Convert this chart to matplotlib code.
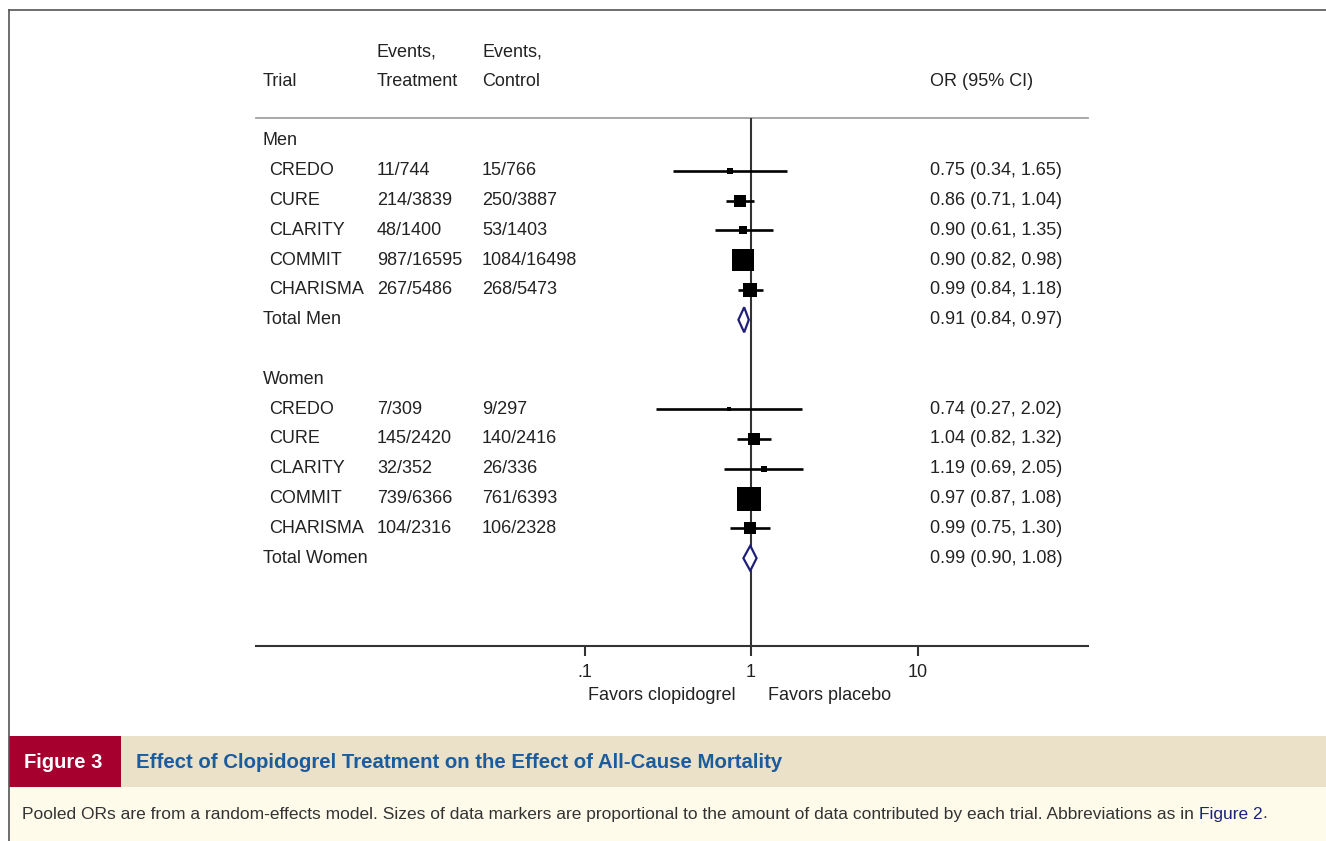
import numpy as np
import matplotlib
matplotlib.use("Agg")
import matplotlib.pyplot as plt
from matplotlib.patches import Polygon, Rectangle

plt.rcParams['font.family'] = ['Liberation Sans', 'DejaVu Sans']

# ---------------- data ----------------
groups = ["Men", "Women"]
trials = ["CREDO", "CURE", "CLARITY", "COMMIT", "CHARISMA"]
men_treat = ["11/744", "214/3839", "48/1400", "987/16595", "267/5486"]
men_ctrl = ["15/766", "250/3887", "53/1403", "1084/16498", "268/5473"]
men_or = [0.75, 0.86, 0.90, 0.90, 0.99]
men_lo = [0.34, 0.71, 0.61, 0.82, 0.84]
men_hi = [1.65, 1.04, 1.35, 0.98, 1.18]
men_weight = [3, 16, 6.5, 55, 20]
men_total = (0.91, 0.84, 0.97)

women_treat = ["7/309", "145/2420", "32/352", "739/6366", "104/2316"]
women_ctrl = ["9/297", "140/2416", "26/336", "761/6393", "106/2328"]
women_or = [0.74, 1.04, 1.19, 0.97, 0.99]
women_lo = [0.27, 0.82, 0.69, 0.87, 0.75]
women_hi = [2.02, 1.32, 2.05, 1.08, 1.30]
women_weight = [2.7, 16, 5, 65, 14]
women_total = (0.99, 0.90, 1.08)

xticks = [0.1, 1, 10]
xticklabels = [".1", "1", "10"]

W, H = 1326, 841
fig = plt.figure(figsize=(W / 100, H / 100), dpi=100)

# overlay axes in pixel coords
bg = fig.add_axes([0, 0, 1, 1])
bg.set_xlim(0, W)
bg.set_ylim(H, 0)
bg.axis("off")

txt_color = "#222222"
fs = 13

# frame lines
bg.plot([9, W], [10, 10], color="#555555", lw=1.2)
bg.plot([9, 9], [10, H], color="#555555", lw=1.2)

# caption bands
bg.add_patch(Rectangle((9, 736), W - 9, 51, facecolor="#EBE0C8", edgecolor="none"))
bg.add_patch(Rectangle((9, 787), W - 9, H - 787, facecolor="#FEFBEB", edgecolor="none"))
bg.add_patch(Rectangle((9, 736), 112, 51, facecolor="#A6002E", edgecolor="none"))
cap_font = ['Liberation Sans', 'DejaVu Sans']
bg.text(63, 762, "Figure 3", color="white", fontsize=14.5, fontweight="bold",
        family=cap_font, ha="center", va="center")
bg.text(136, 762, "Effect of Clopidogrel Treatment on the Effect of All-Cause Mortality",
        color="#1A5C9E", fontsize=14.7, fontweight="bold", family=cap_font,
        ha="left", va="center")
t1 = bg.text(22, 814, "Pooled ORs are from a random-effects model. Sizes of data markers are "
             "proportional to the amount of data contributed by each trial. Abbreviations as in ",
             color="#333333", fontsize=12.5, family=cap_font, ha="left", va="center")
fig.canvas.draw()
bb = t1.get_window_extent()
t2 = bg.text(bb.x1, 814, "Figure 2", color="#1A237E", fontsize=12.5, family=cap_font,
             ha="left", va="center")
bb2 = t2.get_window_extent()
bg.text(bb2.x1, 814, ".", color="#333333", fontsize=12.5, family=cap_font,
        ha="left", va="center")

# header
bg.text(263, 81, "Trial", color=txt_color, fontsize=fs, va="center")
bg.text(377, 52, "Events,", color=txt_color, fontsize=fs, va="center")
bg.text(377, 81, "Treatment", color=txt_color, fontsize=fs, va="center")
bg.text(482, 52, "Events,", color=txt_color, fontsize=fs, va="center")
bg.text(482, 81, "Control", color=txt_color, fontsize=fs, va="center")
bg.text(930, 81, "OR (95% CI)", color=txt_color, fontsize=fs, va="center")
bg.plot([256, 1088], [118, 118], color="#999999", lw=1.2)

# forest axes
x0, x1 = 256, 1088
ytop, ybot = 118, 646
ax = fig.add_axes([x0 / W, 1 - ybot / H, (x1 - x0) / W, (ybot - ytop) / H])
ax.patch.set_alpha(0)
px_per_dec = 166.5
xmin = 10 ** ((x0 - 751) / px_per_dec)
xmax = 10 ** ((x1 - 751) / px_per_dec)
ax.set_xscale("log")
ax.set_xlim(xmin, xmax)
row0_px, row_px = 141, 29.8
ax.set_ylim((ybot - row0_px) / row_px, (ytop - row0_px) / row_px)
for s in ["top", "right", "left"]:
    ax.spines[s].set_visible(False)
ax.spines["bottom"].set_color("#333333")
ax.spines["bottom"].set_linewidth(1.5)
ax.set_yticks([])
ax.set_xticks(xticks)
ax.set_xticklabels(xticklabels, fontsize=fs, color=txt_color)
ax.xaxis.set_minor_locator(matplotlib.ticker.NullLocator())
ax.tick_params(axis="x", direction="out", length=7, width=1.5, color="#333333", pad=6)
ax.axvline(1, color="#333333", lw=1.5)

yax = ax.get_yaxis_transform()


def col(px):
    return (px - x0) / (x1 - x0)


def draw_group(start, name, treat, ctrl, orv, lo, hi, wt, total, total_label):
    ax.text(col(263), start, name, transform=yax, ha="left", va="center",
            fontsize=fs, color=txt_color)
    for i, tr in enumerate(trials):
        y = start + 1 + i
        ax.text(col(269), y, tr, transform=yax, ha="left", va="center",
                fontsize=fs, color=txt_color)
        ax.text(col(377), y, treat[i], transform=yax, ha="left", va="center",
                fontsize=fs, color=txt_color)
        ax.text(col(482), y, ctrl[i], transform=yax, ha="left", va="center",
                fontsize=fs, color=txt_color)
        ax.text(col(930), y, f"{orv[i]:.2f} ({lo[i]:.2f}, {hi[i]:.2f})",
                transform=yax, ha="left", va="center", fontsize=fs, color=txt_color)
        ax.plot([lo[i], hi[i]], [y, y], color="black", lw=1.9, solid_capstyle="butt", zorder=3)
        side_px = 2.97 * np.sqrt(wt[i])
        ax.plot([orv[i]], [y], marker="s", color="black", markersize=side_px * 0.72,
                markeredgewidth=0, zorder=4)
    yt = start + 6
    ax.text(col(263), yt, total_label, transform=yax, ha="left", va="center",
            fontsize=fs, color=txt_color)
    ax.text(col(930), yt, f"{total[0]:.2f} ({total[1]:.2f}, {total[2]:.2f})",
            transform=yax, ha="left", va="center", fontsize=fs, color=txt_color)
    dh = 0.42
    poly = Polygon([[total[1], yt], [total[0], yt - dh], [total[2], yt], [total[0], yt + dh]],
                   closed=True, facecolor="white", edgecolor="#1F1F7A", lw=1.6, zorder=5)
    ax.add_patch(poly)


draw_group(0, groups[0], men_treat, men_ctrl, men_or, men_lo, men_hi, men_weight,
           men_total, "Total Men")
draw_group(8, groups[1], women_treat, women_ctrl, women_or, women_lo, women_hi, women_weight,
           women_total, "Total Women")

bg.text(662, 695, "Favors clopidogrel", ha="center", va="center", fontsize=fs, color=txt_color)
bg.text(830, 695, "Favors placebo", ha="center", va="center", fontsize=fs, color=txt_color)

fig.savefig("out.png", dpi=100)
